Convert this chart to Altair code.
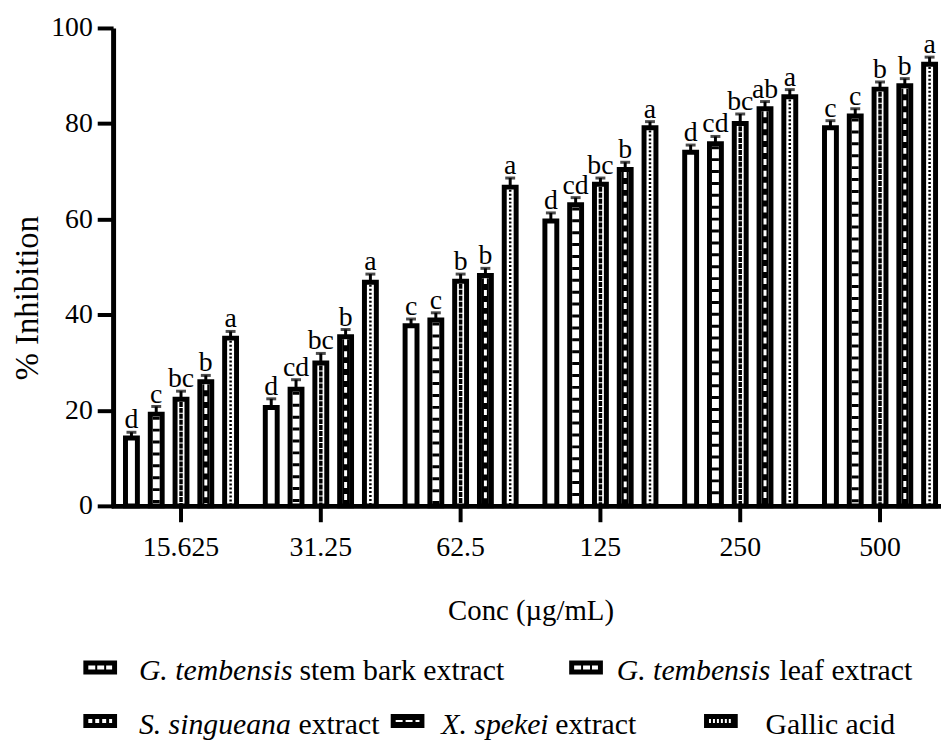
import altair as alt
import pandas as pd

FONT = "'Liberation Serif', 'Times New Roman', Times, serif"

concs = ["15.625", "31.25", "62.5", "125", "250", "500"]
series = ["G. tembensis stem bark extract", "G. tembensis leaf extract",
          "S. singueana extract", "X. spekei extract", "Gallic acid"]

stem_bark = [14.2, 20.6, 37.7, 59.6, 74.0, 79.1]
leaf = [19.2, 24.4, 38.9, 63.0, 75.8, 81.6]
singueana = [22.3, 29.9, 47.0, 67.3, 80.0, 87.2]
spekei = [26.0, 35.4, 48.2, 70.4, 83.1, 87.9]
gallic = [35.1, 46.8, 66.7, 79.1, 85.6, 92.4]

stem_bark_err = [1.2, 1.8, 1.4, 1.7, 1.5, 1.5]
leaf_err = [1.6, 2.0, 1.5, 1.5, 1.5, 1.5]
singueana_err = [1.7, 2.0, 1.5, 1.3, 2.0, 1.5]
spekei_err = [1.3, 1.5, 1.5, 1.5, 1.5, 1.5]
gallic_err = [1.4, 1.7, 1.9, 1.3, 1.5, 1.5]

stem_bark_letters = ["d", "d", "c", "d", "d", "c"]
leaf_letters = ["c", "cd", "c", "cd", "cd", "c"]
singueana_letters = ["bc", "bc", "b", "bc", "bc", "b"]
spekei_letters = ["b", "b", "b", "b", "ab", "b"]
gallic_letters = ["a", "a", "a", "a", "a", "a"]

values = [stem_bark, leaf, singueana, spekei, gallic]
errs = [stem_bark_err, leaf_err, singueana_err, spekei_err, gallic_err]
letters = [stem_bark_letters, leaf_letters, singueana_letters, spekei_letters, gallic_letters]

rows = []
for si, s in enumerate(series):
    for ci, c in enumerate(concs):
        rows.append({"conc": c, "series": s, "value": values[si][ci],
                     "err": errs[si][ci], "letter": letters[si][ci]})
df = pd.DataFrame(rows)

xscale = alt.Scale(range=[-2, 844], paddingInner=0, paddingOuter=0)
yscale = alt.Scale(domain=[0, 100], nice=False)
xaxis = alt.Axis(title="Conc (µg/mL)", labelAngle=0, labelPadding=12,
                 titleFontSize=29, titleY=115, titleBaseline="alphabetic", zindex=1)
yaxis = alt.Axis(title="% Inhibition", values=[0, 20, 40, 60, 80, 100], labelPadding=5,
                 titleFontSize=33, titleX=-86, titleY=272, titleBaseline="middle",
                 titleAngle=-90, titleAlign="center", zindex=1)


def Y(field):
    return alt.Y(field, scale=yscale, axis=yaxis)


base = alt.Chart(df).transform_calculate(
    top="datum.value + datum.err", inner="datum.value - 0.55"
).encode(
    x=alt.X("conc:N", sort=concs, scale=xscale, axis=xaxis),
    xOffset=alt.XOffset("series:N", sort=series,
                        scale=alt.Scale(paddingInner=0.52, paddingOuter=0.58)),
)

bars = base.mark_bar(fill="white", stroke="black", strokeWidth=5).encode(y=Y("value:Q"))


def pattern(si, **kw):
    return base.transform_filter(alt.datum.series == series[si]).mark_rule(**kw).encode(
        y=Y("inner:Q"), y2=alt.datum(0.4))


patterns = [
    pattern(1, color="black", strokeWidth=7, strokeDash=[3, 9]),
    pattern(2, color="black", strokeWidth=3.5, strokeDash=[5, 7], xOffset=-1.75),
    pattern(2, color="black", strokeWidth=3.5, strokeDash=[5, 7], strokeDashOffset=6, xOffset=1.75),
    pattern(3, color="black", strokeWidth=7),
    pattern(3, color="white", strokeWidth=3, strokeDash=[6, 6]),
    pattern(4, color="black", strokeWidth=2.5, strokeDash=[2, 2]),
]

err_rule = base.mark_rule(color="black", strokeWidth=3).encode(y=Y("value:Q"), y2="top:Q")
err_cap = base.mark_tick(color="black", thickness=3, size=10).encode(y=Y("top:Q"))
labels = base.mark_text(font=FONT, fontSize=28, dy=-4, baseline="alphabetic",
                        color="black").encode(y=Y("top:Q"), text="letter:N")

# custom legend (positions relative to plot origin)
OX, OY = 114, 25
SW = 34
legend_items = [
    # (series index, swatch right edge, row baseline, italic text, italic x, normal text, normal x, dash)
    (0, 118, 683, "G. tembensis", 140, "stem bark extract", 302, [7, 2]),
    (1, 608, 683, "G. tembensis", 622, "leaf extract", 786, [7, 2]),
    (2, 118, 737, "S. singueana", 140, "extract", 301, [4, 3]),
    (3, 428, 737, "X. spekei", 445, "extract", 560, [7, 3]),
    (4, 744, 737, "", 0, "Gallic acid", 772, [2, 2]),
]
legend_layers = []
for si, sx, base_y, ital, ix, norm, nx, dash in legend_items:
    ld = pd.DataFrame({"series": [series[si]]})
    sw = alt.Chart(ld).mark_rect(color="black").encode(
        x=alt.value(sx - SW - OX), x2=alt.value(sx - OX),
        y=alt.value(base_y - 20 - OY), y2=alt.value(base_y - 6 - OY))
    inner = alt.Chart(ld).mark_rule(color="white", strokeWidth=4 if si != 3 else 2,
                                    strokeDash=dash).encode(
        x=alt.value(sx - SW + 5 - OX), x2=alt.value(sx - 5 - OX),
        y=alt.value(base_y - 13 - OY))
    legend_layers += [sw, inner]
    if ital:
        legend_layers.append(alt.Chart(ld).mark_text(
            text=ital, font=FONT, fontStyle="italic", fontSize=30, align="left",
            baseline="alphabetic", color="black").encode(
            x=alt.value(ix - OX), y=alt.value(base_y - OY)))
    legend_layers.append(alt.Chart(ld).mark_text(
        text=norm, font=FONT, fontSize=30, align="left",
        baseline="alphabetic", color="black").encode(
        x=alt.value(nx - OX), y=alt.value(base_y - OY)))

chart = alt.layer(bars, *patterns, err_rule, err_cap, labels, *legend_layers).properties(
    width=827, height=482,
    autosize=alt.AutoSizeParams(type="none"),
    padding={"left": 106, "top": 17, "right": 8, "bottom": 234},
).configure_view(stroke=None).configure_axis(
    domainColor="black", domainWidth=5, tickColor="black", tickWidth=4, tickSize=16,
    labelFont=FONT, labelFontSize=28, labelColor="black",
    titleFont=FONT, titleColor="black", titleFontWeight="normal", grid=False,
)

chart.save("out.html", embed_options={"renderer": "svg", "actions": False})
